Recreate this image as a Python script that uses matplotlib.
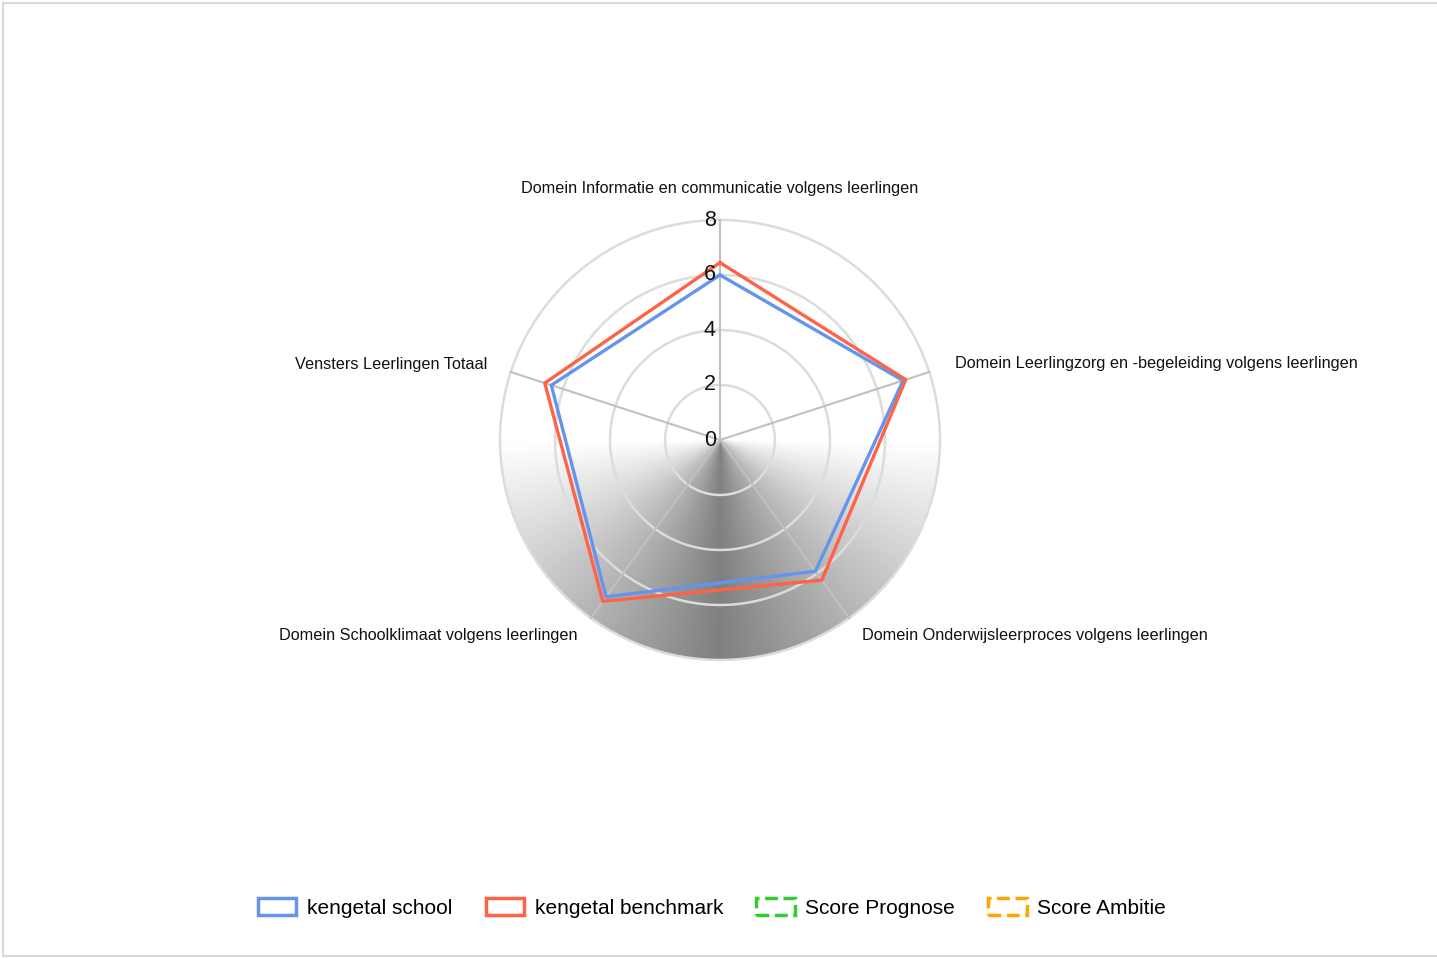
import numpy as np
import matplotlib
matplotlib.use('Agg')
import matplotlib.pyplot as plt
from matplotlib.patches import Patch
from matplotlib.lines import Line2D

plt.rcParams['font.family'] = ['Liberation Sans', 'DejaVu Sans']

categories = ['Domein Informatie en communicatie volgens leerlingen',
              'Domein Leerlingzorg en -begeleiding volgens leerlingen',
              'Domein Onderwijsleerproces volgens leerlingen',
              'Domein Schoolklimaat volgens leerlingen',
              'Vensters Leerlingen Totaal']
school = [6.0, 7.0, 5.9, 7.05, 6.45]
benchmark = [6.45, 7.1, 6.3, 7.25, 6.7]
rticks = [0, 2, 4, 6, 8]
legend_names = ['kengetal school', 'kengetal benchmark', 'Score Prognose', 'Score Ambitie']
colors = ['#6495ED', '#FF6347', '#33CC33', '#FFA500']

W, H = 1437, 958
fig = plt.figure(figsize=(W / 100, H / 100), dpi=100)

# frame around chart
fig.add_artist(Line2D([3 / W, 3 / W], [2 / H, 955 / H], color='#d9d9d9', lw=1.5))
fig.add_artist(Line2D([3 / W, 1], [955 / H, 955 / H], color='#d9d9d9', lw=1.5))
fig.add_artist(Line2D([3 / W, 1], [2 / H, 2 / H], color='#d9d9d9', lw=1.5))

cx, cy, R = 720, 440, 220
ax = fig.add_axes([(cx - R) / W, (H - cy - R) / H, 2 * R / W, 2 * R / H], projection='polar')
ax.set_theta_zero_location('N')
ax.set_theta_direction(-1)
ax.set_ylim(0, 8)
ax.set_facecolor('none')
ax.spines['polar'].set_visible(False)
ax.grid(False)
ax.set_xticks([])
ax.set_yticks([])

# conic grey gradient in the lower half
th = np.linspace(np.pi / 2, 3 * np.pi / 2, 361)
rr = np.array([0, 8])
TH, RR = np.meshgrid(th, rr)
val = np.abs(TH - np.pi) / (np.pi / 2)
ax.pcolormesh(TH, RR, val[:-1, :-1], cmap='gray', vmin=-1, vmax=1, shading='flat', zorder=0)

# circular grid
full = np.linspace(0, 2 * np.pi, 400)
for v in rticks[1:]:
    ax.plot(full, [v] * len(full), color='#dcdcdc', lw=1.8, zorder=1, clip_on=False)

n = len(categories)
angles = np.arange(n) * 2 * np.pi / n
for a in angles:
    ax.plot([a, a], [0, 8], color='#c0c0c0', lw=1.5, zorder=1, clip_on=False)

for v in rticks:
    ax.annotate(str(v), xy=(0, v), xytext=(-3, 0), textcoords='offset points',
                ha='right', va='center', fontsize=15.5, color='#111111', zorder=6)

ang_c = np.append(angles, angles[0])
ax.plot(ang_c, school + school[:1], color=colors[0], lw=2.4, zorder=4)
ax.plot(ang_c, benchmark + benchmark[:1], color=colors[1], lw=2.4, zorder=5)

label_r = [9.16, 9.0, 8.8, 8.8, 8.9]
label_ha = ['center', 'left', 'left', 'right', 'right']
for a, txt, r, ha in zip(angles, categories, label_r, label_ha):
    ax.text(a, r, txt, ha=ha, va='center', fontsize=11.7, color='#111111')

handles = []
for i, c in enumerate(colors):
    ls = '-' if i < 2 else '--'
    handles.append(Patch(facecolor='none', edgecolor=c, linewidth=2.5, linestyle=ls))
fig.legend(handles, legend_names, loc='center', bbox_to_anchor=(712 / W, 1 - 908 / H),
           ncol=4, frameon=False, fontsize=15, handlelength=1.85, handleheight=0.85,
           handletextpad=0.5, columnspacing=1.6)

fig.savefig('out.png', dpi=100)
